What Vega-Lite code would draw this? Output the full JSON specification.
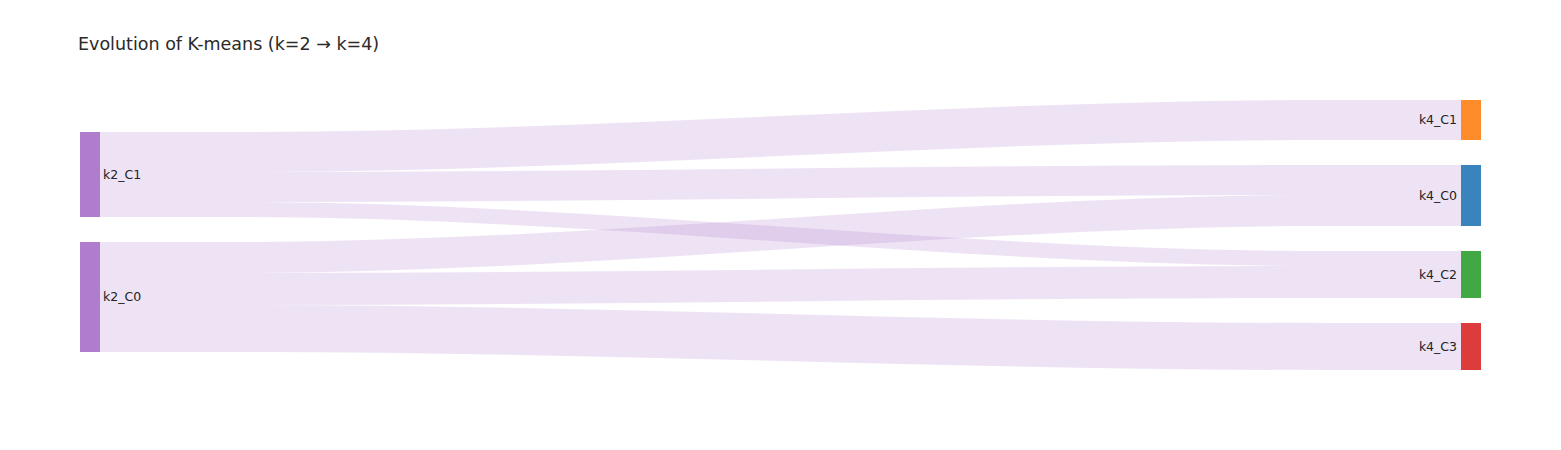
{
  "$schema": "https://vega.github.io/schema/vega-lite/v6.json",
  "autosize": {"type": "none"},
  "width": 1361,
  "height": 270,
  "padding": {"left": 100, "top": 100, "right": 100, "bottom": 80},
  "background": "white",
  "config": {"view": {"stroke": null}},
  "title": {
    "text": "Evolution of K-means (k=2 → k=4)",
    "anchor": "start",
    "frame": "group",
    "font": "DejaVu Sans",
    "fontSize": 17.5,
    "fontWeight": "normal",
    "color": "#2a2a2a",
    "baseline": "alphabetic",
    "offset": 33,
    "dx": -22
  },
  "datasets": {
    "links": [
      {"source": "k2_C1", "target": "k4_C1", "si": 0, "ti": 0, "value": 40},
      {"source": "k2_C1", "target": "k4_C0", "si": 0, "ti": 1, "value": 30},
      {"source": "k2_C1", "target": "k4_C2", "si": 0, "ti": 2, "value": 15},
      {"source": "k2_C0", "target": "k4_C0", "si": 1, "ti": 1, "value": 31},
      {"source": "k2_C0", "target": "k4_C2", "si": 1, "ti": 2, "value": 32},
      {"source": "k2_C0", "target": "k4_C3", "si": 1, "ti": 3, "value": 47}
    ]
  },
  "layer": [
    {
      "data": {"name": "links"},
      "transform": [
        {"stack": "value", "groupby": [], "sort": [{"field": "si"}, {"field": "ti"}], "as": ["s0", "s1"]},
        {"stack": "value", "groupby": [], "sort": [{"field": "ti"}, {"field": "si"}], "as": ["t0", "t1"]},
        {"calculate": "[0, 0.1, 0.9, 1]", "as": "xs"},
        {"calculate": "[datum.s0 + datum.si * 25 + 32, datum.s0 + datum.si * 25 + 32, datum.t0 + datum.ti * 25, datum.t0 + datum.ti * 25]", "as": "top"},
        {"calculate": "[datum.s1 + datum.si * 25 + 32, datum.s1 + datum.si * 25 + 32, datum.t1 + datum.ti * 25, datum.t1 + datum.ti * 25]", "as": "bot"},
        {"flatten": ["xs", "top", "bot"]}
      ],
      "mark": {"type": "area", "interpolate": "monotone", "color": "#b07dcc", "fillOpacity": 0.21},
      "encoding": {
        "x": {"field": "xs", "type": "quantitative", "scale": {"domain": [0, 1], "nice": false, "zero": false, "padding": 0}, "axis": null},
        "y": {"field": "top", "type": "quantitative", "scale": {"domain": [0, 270], "nice": false, "zero": false, "reverse": true, "padding": 0}, "axis": null},
        "y2": {"field": "bot"},
        "detail": [{"field": "source"}, {"field": "target"}]
      }
    },
    {
      "data": {"name": "links"},
      "transform": [
        {"aggregate": [{"op": "sum", "field": "value", "as": "v"}], "groupby": ["source", "si"]},
        {"stack": "v", "groupby": [], "sort": [{"field": "si"}], "as": ["n0", "n1"]},
        {"calculate": "datum.n0 + datum.si * 25 + 32", "as": "y0"},
        {"calculate": "datum.n1 + datum.si * 25 + 32", "as": "y1"},
        {"calculate": "(datum.y0 + datum.y1) / 2", "as": "ym"}
      ],
      "layer": [
        {
          "mark": {"type": "bar", "width": 20, "xOffset": -10, "opacity": 1},
          "encoding": {
            "x": {"datum": 0, "type": "quantitative"},
            "y": {"field": "y0", "type": "quantitative"},
            "y2": {"field": "y1"},
            "color": {"field": "source", "type": "nominal", "legend": null,
              "scale": {"domain": ["k2_C1", "k2_C0", "k4_C1", "k4_C0", "k4_C2", "k4_C3"], "range": ["#b07dcc", "#b07dcc", "#ff8c2b", "#3a84bd", "#42a843", "#dc3c3c"]}}
          }
        },
        {
          "mark": {"type": "text", "align": "left", "baseline": "middle", "dx": 3, "font": "DejaVu Sans", "fontSize": 12.5, "color": "#222"},
          "encoding": {
            "x": {"datum": 0, "type": "quantitative"},
            "y": {"field": "ym", "type": "quantitative"},
            "text": {"field": "source"}
          }
        }
      ]
    },
    {
      "data": {"name": "links"},
      "transform": [
        {"aggregate": [{"op": "sum", "field": "value", "as": "v"}], "groupby": ["target", "ti"]},
        {"stack": "v", "groupby": [], "sort": [{"field": "ti"}], "as": ["n0", "n1"]},
        {"calculate": "datum.n0 + datum.ti * 25", "as": "y0"},
        {"calculate": "datum.n1 + datum.ti * 25", "as": "y1"},
        {"calculate": "(datum.y0 + datum.y1) / 2", "as": "ym"}
      ],
      "layer": [
        {
          "mark": {"type": "bar", "width": 20, "xOffset": 10, "opacity": 1},
          "encoding": {
            "x": {"datum": 1, "type": "quantitative"},
            "y": {"field": "y0", "type": "quantitative"},
            "y2": {"field": "y1"},
            "color": {"field": "target", "type": "nominal", "legend": null,
              "scale": {"domain": ["k2_C1", "k2_C0", "k4_C1", "k4_C0", "k4_C2", "k4_C3"], "range": ["#b07dcc", "#b07dcc", "#ff8c2b", "#3a84bd", "#42a843", "#dc3c3c"]}}
          }
        },
        {
          "mark": {"type": "text", "align": "right", "baseline": "middle", "dx": -4, "font": "DejaVu Sans", "fontSize": 12.5, "color": "#222"},
          "encoding": {
            "x": {"datum": 1, "type": "quantitative"},
            "y": {"field": "ym", "type": "quantitative"},
            "text": {"field": "target"}
          }
        }
      ]
    }
  ]
}
